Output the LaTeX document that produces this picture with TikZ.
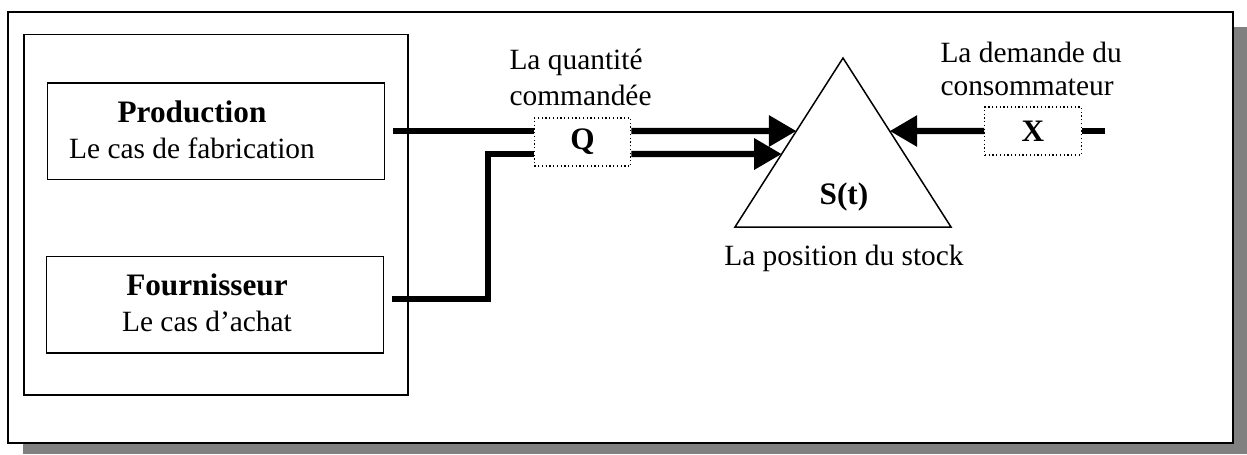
\documentclass[tikz,border=0pt]{standalone}
\usepackage{fontspec}
\setmainfont{Liberation Serif}
\usetikzlibrary{arrows.meta}

\newcommand{\taille}{\fontsize{11.76pt}{14.4pt}\selectfont}
\newcommand{\gras}[1]{{\fontsize{12.5pt}{14.4pt}\selectfont\bfseries #1}}

\tikzset{
  bloc/.style={draw, line width=0.6pt, minimum width=134.8pt, minimum height=38.6pt},
  etiq/.style={draw, densely dotted, line width=0.5pt, fill=white,
    minimum width=38.6pt, minimum height=19.2pt},
  flux/.style={line width=2.5pt, line join=miter},
  fleche/.style={flux, -{Triangle[length=11pt,width=12pt]}}
}

\begin{document}
\begin{tikzpicture}[x=0.4pt, y=-0.4pt, font=\taille]
	\useasboundingbox (0,0) rectangle (1247,454);
	% cadre et ombre
	\fill[gray] (23,27) rectangle (1247,454);
	\draw[line width=0.8pt, fill=white] (8,11.7) rectangle (1232.7,442.7);

	\node[draw, line width=0.6pt, minimum width=153.6pt, minimum height=144.3pt] (groupe) at (215.8,214.7) {};
	\node[bloc] (prod) at (216,131) {};
	\node[bloc] (four) at (215.2,304.7) {};
	\node[align=center, inner sep=0pt] (prodtxt) at (192,130) {\gras{Production}\\Le cas de fabrication};
	\node[align=center, inner sep=0pt] (fourtxt) at (207,303) {\gras{Fournisseur}\\Le cas d'achat};

	\node[etiq] (q) at (582.5,142) {\gras{Q}};
	\node[etiq] (x) at (1033,131) {\gras{X}};
	\node[align=left, anchor=west, inner sep=0pt] (qlab) at (509,77) {La quantité\\commandée};
	\node[align=left, anchor=west, inner sep=0pt, font=\fontsize{11.76pt}{13.2pt}\selectfont] (xlab) at (940,68.5) {La demande du\\consommateur};

	% stock
	\coordinate (sommet) at (843,58);
	\coordinate (gauche) at (735,227);
	\coordinate (droite) at (951,227);
	\draw[line width=0.6pt] (sommet) -- (gauche) -- (droite) -- cycle;
	\node (st) at (844,197) {\gras{S(t)}};
	\node (pos) at (844,258) {La position du stock};

	% flux entrants
	\draw[flux] ([xshift=3.2pt]prod.east) coordinate (d1) -- (d1 -| q.west);
	\coordinate (e1) at (d1 -| q.east);
	\draw[fleche] (e1) -- (intersection of sommet--gauche and d1--e1);

	\coordinate (coude) at (488,154);
	\draw[flux] ([xshift=3.2pt,yshift=2.3pt]four.east) coordinate (d2) -| (coude) -- (coude -| q.west);
	\coordinate (e2) at (coude -| q.east);
	\draw[fleche] (e2) -- (intersection of sommet--gauche and coude--e2);

	% demande
	\coordinate (f) at (1105,131);
	\draw[flux] (f) -- (x.east);
	\draw[fleche] (x.west) -- (intersection of sommet--droite and x.west--x.east);
    \end{tikzpicture}
\end{document}
